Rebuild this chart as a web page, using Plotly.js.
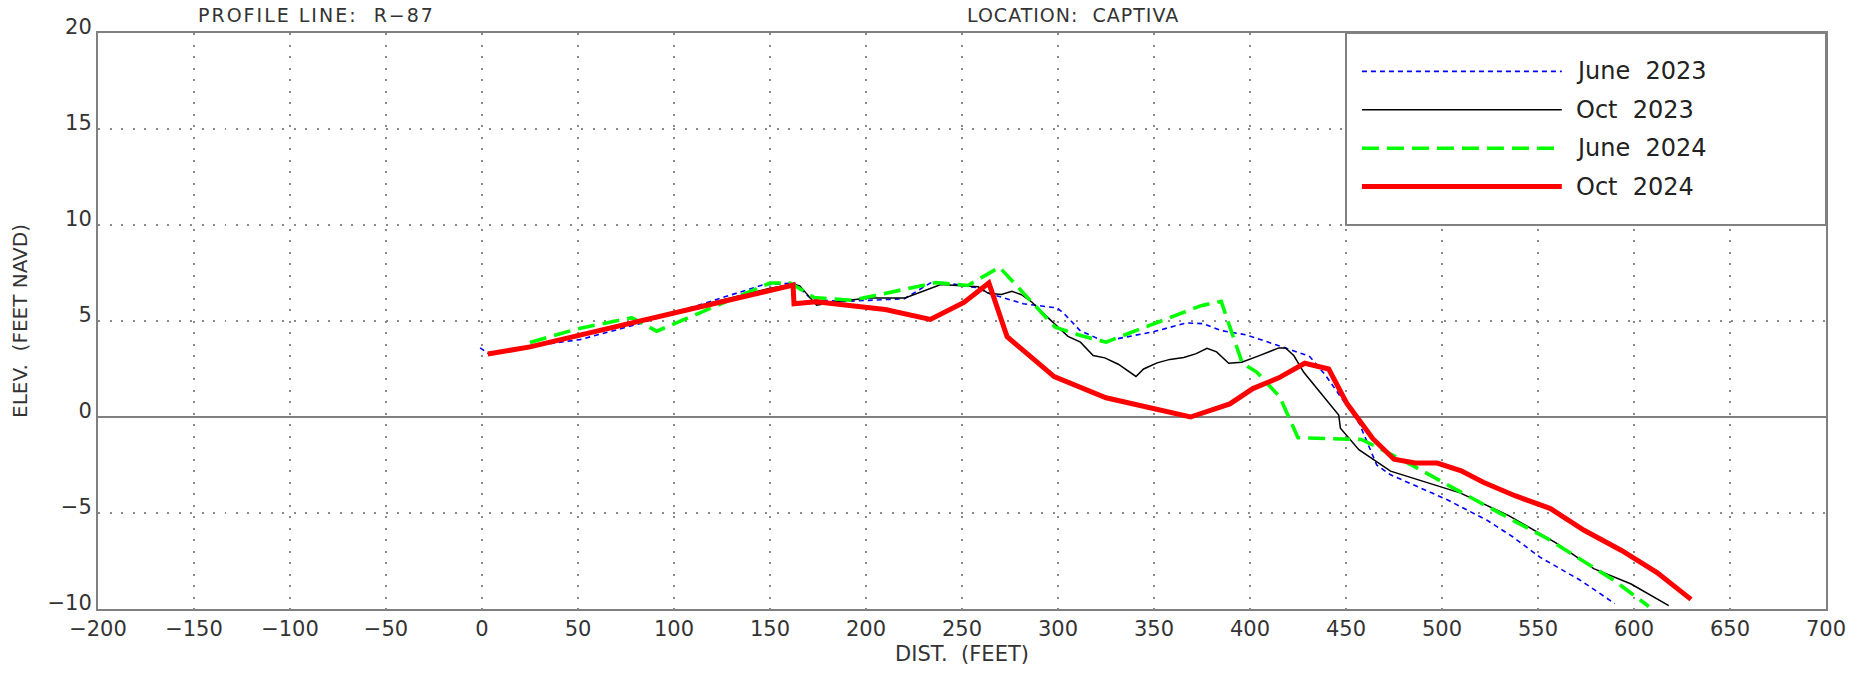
<!DOCTYPE html>
<html>
<head>
<meta charset="utf-8">
<script src="https://cdn.plot.ly/plotly-3.0.1.min.js"></script>
<style>
  html, body { margin: 0; padding: 0; background: #fff; }
  #chart { width: 1866px; height: 674px; }
  .annotation[data-index="0"] text { letter-spacing: 2px; }
  .annotation[data-index="1"] text { letter-spacing: 1px; }
</style>
</head>
<body>
<div id="chart"></div>
<script>
// ---- Data (distance in feet, elevation in feet NAVD) ----
const seriesNames = ["June 2023", "Oct 2023", "June 2024", "Oct 2024"];

const june2023X = [-1, 3, 25, 51, 82, 146, 162.5, 172, 189, 220, 233.5, 244, 258, 264.5, 282, 299.5, 303, 311.5, 324, 350, 367, 375.5, 385, 398, 413, 431, 439, 457, 466, 473, 502.5, 523.5, 537, 551, 572, 590];
const june2023Y = [3.6, 3.33, 3.68, 4.03, 4.86, 6.87, 6.98, 6.1, 6.02, 6.16, 6.98, 6.94, 6.73, 6.42, 5.9, 5.68, 5.4, 4.5, 3.94, 4.45, 4.9, 4.86, 4.5, 4.28, 3.78, 3.16, 2.22, -0.35, -2.5, -3.0, -4.3, -5.38, -6.25, -7.3, -8.5, -9.72];

const oct2023X = [3, 25, 149, 162, 165.5, 174.3, 185, 201.5, 220.3, 239, 258.5, 263.7, 270.5, 276, 281, 286.3, 296, 305.2, 311.7, 318.3, 324.4, 331.4, 340.6, 344.6, 351.6, 358.3, 365.5, 372, 377.6, 382.6, 388.9, 395.7, 405.2, 415, 418.5, 422.8, 428, 446.2, 447.1, 456.7, 473.2, 509.4, 535, 560, 579, 598.5, 618.1];
const oct2023Y = [3.3, 3.65, 6.68, 6.92, 6.83, 5.82, 6.02, 6.2, 6.2, 6.9, 6.78, 6.44, 6.38, 6.55, 6.37, 5.99, 5.06, 4.2, 3.9, 3.2, 3.08, 2.75, 2.11, 2.5, 2.82, 3.0, 3.1, 3.3, 3.58, 3.39, 2.8, 2.85, 3.21, 3.6, 3.6, 3.2, 2.33, 0.1, -0.58, -1.7, -2.82, -3.95, -5.15, -6.6, -7.9, -8.7, -9.82];

const june2024X = [25, 50, 78, 91, 150, 160.5, 173, 193, 236.5, 253, 269.5, 298.5, 311, 325, 374.5, 385, 396, 403.5, 415.5, 425, 452, 458, 466, 475, 486, 505, 520, 537, 555, 572, 589.5, 607.7];
const june2024Y = [3.88, 4.6, 5.17, 4.47, 6.98, 6.98, 6.22, 6.08, 7.0, 6.85, 7.8, 4.68, 4.27, 3.9, 5.8, 6.02, 2.8, 2.34, 1.05, -1.08, -1.16, -1.17, -1.56, -2.03, -2.6, -3.65, -4.48, -5.38, -6.34, -7.38, -8.5, -9.87];

const oct2024X = [3, 25, 162, 162.5, 174, 210, 233.5, 251, 264, 273.5, 298, 325, 369, 389.5, 401.5, 415, 428.5, 441, 450.5, 464, 475, 486, 497.5, 510, 521.5, 538, 556.5, 574, 593.5, 612, 629.7];
const oct2024Y = [3.28, 3.65, 6.87, 5.9, 6.0, 5.6, 5.08, 5.97, 6.98, 4.18, 2.1, 1.0, 0.0, 0.68, 1.48, 2.04, 2.8, 2.5, 0.7, -1.13, -2.2, -2.4, -2.4, -2.8, -3.4, -4.1, -4.77, -5.9, -6.95, -8.1, -9.5];

const xTicks = [-200, -150, -100, -50, 0, 50, 100, 150, 200, 250, 300, 350, 400, 450, 500, 550, 600, 650, 700];
const yTicks = [-10, -5, 0, 5, 10, 15, 20];

const titleLeft = "PROFILE LINE:\u00a0\u00a0R\u221287";
const titleRight = "LOCATION:\u00a0\u00a0CAPTIVA";
const xTitle = "DIST.\u00a0\u00a0(FEET)";
const yTitle = "ELEV.\u00a0\u00a0(FEET NAVD)";

// ---- Styles ----
const styles = [
  {color: "#0000ff", width: 1.6, dash: "5px,4px"},
  {color: "#000000", width: 1.5, dash: "solid"},
  {color: "#00ff00", width: 3.6, dash: "17px,8px"},
  {color: "#ff0000", width: 5, dash: "solid"}
];
const xs = [june2023X, oct2023X, june2024X, oct2024X];
const ys = [june2023Y, oct2023Y, june2024Y, oct2024Y];

const traces = seriesNames.map((n, i) => ({
  type: "scatter", mode: "lines", name: n,
  x: xs[i], y: ys[i],
  line: {color: styles[i].color, width: styles[i].width, dash: styles[i].dash},
  showlegend: false, hoverinfo: "skip"
}));

const FONT = '"DejaVu Sans", sans-serif';
const TXT = "#333333";
const FRAME = "#808080";

// Custom legend box (drawn inside the plot, upper right)
const legX0 = 450, legX1 = 700, legY0 = 10, legY1 = 20;
const legRows = [18, 16, 14, 12];
const legLineX = [458.3, 562.4];
const legTextX = 568.5;

const shapes = [{
  type: "rect", xref: "x", yref: "y", x0: legX0, x1: legX1, y0: legY0, y1: legY1,
  fillcolor: "#ffffff", line: {color: FRAME, width: 2}, layer: "above"
}];
const annotations = [
  {xref: "paper", yref: "paper", x: 0.1266, y: 1.0307, xanchor: "center", yanchor: "middle",
   text: titleLeft, showarrow: false, font: {family: FONT, size: 19, color: TXT}},
  {xref: "paper", yref: "paper", x: 0.5641, y: 1.0307, xanchor: "center", yanchor: "middle",
   text: titleRight, showarrow: false, font: {family: FONT, size: 19, color: TXT}}
];
seriesNames.forEach((n, i) => {
  shapes.push({type: "line", xref: "x", yref: "y", x0: legLineX[0], x1: legLineX[1],
    y0: legRows[i], y1: legRows[i], layer: "above",
    line: {color: styles[i].color, width: styles[i].width, dash: styles[i].dash}});
  annotations.push({xref: "x", yref: "y", x: legTextX, y: legRows[i], xanchor: "left", yanchor: "middle",
    text: n.replace(" ", "\u00a0\u00a0"), showarrow: false, font: {family: FONT, size: 24, color: "#222"}});
});

const axisCommon = {
  showgrid: true, gridcolor: "#8a8a8a", gridwidth: 2, griddash: "2px,9.5px",
  showline: true, mirror: true, linecolor: FRAME, linewidth: 2,
  ticks: "", tickfont: {family: FONT, size: 21, color: TXT},
  fixedrange: true
};

const layout = {
  width: 1866, height: 674,
  margin: {l: 98, r: 40, t: 33, b: 65, pad: 0},
  paper_bgcolor: "#ffffff", plot_bgcolor: "#ffffff",
  showlegend: false,
  font: {family: FONT, color: TXT},
  xaxis: Object.assign({}, axisCommon, {
    range: [-200, 700], tickmode: "array", tickvals: xTicks,
    ticktext: xTicks.map(v => v < 0 ? "\u2212" + Math.abs(v) : String(v)),
    zeroline: false,
    title: {text: xTitle, font: {family: FONT, size: 21, color: TXT}, standoff: 6}
  }),
  yaxis: Object.assign({}, axisCommon, {
    range: [-10, 20], tickmode: "array", tickvals: yTicks,
    ticktext: yTicks.map(v => v < 0 ? "\u2212" + Math.abs(v) : String(v)),
    zeroline: true, zerolinecolor: FRAME, zerolinewidth: 2,
    ticklabelshift: -6,
    title: {text: yTitle, font: {family: FONT, size: 20, color: TXT}, standoff: 14}
  }),
  shapes: shapes,
  annotations: annotations
};

Plotly.newPlot("chart", traces, layout, {staticPlot: true, displayModeBar: false});
</script>
</body>
</html>
